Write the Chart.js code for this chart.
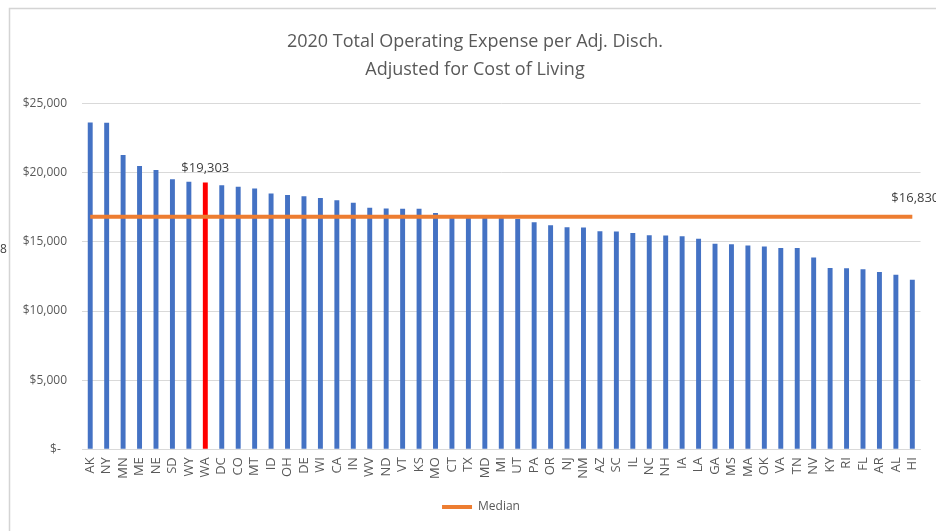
<!DOCTYPE html>
<html>
<head>
<meta charset="utf-8">
<script src="https://cdn.jsdelivr.net/npm/chart.js@4"></script>
<style>
    html, body { margin: 0; padding: 0; background: #fff; }
    #wrap { width: 936px; height: 531px; }
</style>
</head>
<body>
<div id="wrap"><canvas id="expenseChart"></canvas></div>
<script>
const states = ['AK', 'NY', 'MN', 'ME', 'NE', 'SD', 'WY', 'WA', 'DC', 'CO', 'MT', 'ID', 'OH', 'DE', 'WI', 'CA', 'IN',
    'WV', 'ND', 'VT', 'KS', 'MO', 'CT', 'TX', 'MD', 'MI', 'UT', 'PA', 'OR', 'NJ', 'NM', 'AZ', 'SC', 'IL',
    'NC', 'NH', 'IA', 'LA', 'GA', 'MS', 'MA', 'OK', 'VA', 'TN', 'NV', 'KY', 'RI', 'FL', 'AR', 'AL', 'HI'];
const expense = [23640, 23630, 21290, 20490, 20200, 19530, 19350, 19303, 19110, 18990, 18870, 18510, 18390, 18310, 18190, 18020, 17830,
    17470, 17420, 17410, 17400, 17100, 16920, 16900, 16870, 16830, 16660, 16420, 16210, 16060, 16050, 15770, 15760, 15650,
    15480, 15470, 15410, 15240, 14870, 14830, 14750, 14680, 14570, 14560, 13880, 13110, 13100, 13030, 12820, 12620, 12260];
const medianValue = 16830;
const highlightState = 'WA';
const yTicks = [0, 5000, 10000, 15000, 20000, 25000];

const textColor = '#595959';
const fontName = "'Open Sans', sans-serif";

function money(v) {
    if (v === 0) return '$-  ';
    return '$' + v.toLocaleString('en-US');
}

const ctxEl = document.getElementById('expenseChart');
const myChart = new Chart(ctxEl, {
    data: {
        labels: states,
        datasets: [{
            type: 'line',
            label: 'Median',
            data: states.map(() => medianValue),
            borderColor: '#ED7D31',
            backgroundColor: '#ED7D31',
            borderWidth: 4,
            pointRadius: 0,
            order: 0
        }, {
            type: 'bar',
            label: 'Expense',
            data: expense,
            backgroundColor: states.map(s => s === highlightState ? '#FF0000' : '#4472C4'),
            barPercentage: 0.3,
            categoryPercentage: 1,
            order: 1
        }]
    },
    plugins: [{
        id: 'custom',
        afterLayout: (chart) => {
            // nudge title and legend to where the original sits
            chart.titleBlock.left += 6;
            chart.titleBlock.right += 6;
            chart.legend.left += 12;
            chart.legend.right += 12;
            chart.legend.top -= 2;
            chart.legend.bottom -= 2;
        },
        beforeDraw: (chart) => {
            const ctx = chart.ctx;
            ctx.save();
            ctx.fillStyle = '#fff';
            ctx.fillRect(0, 0, chart.width, chart.height);
            // frame of the cropped chart
            ctx.strokeStyle = '#d4d4d4';
            ctx.lineWidth = 1.5;
            ctx.beginPath();
            ctx.moveTo(9.5, chart.height);
            ctx.lineTo(9.5, 8.5);
            ctx.lineTo(chart.width, 8.5);
            ctx.stroke();
            // stray label from outside the crop
            ctx.fillStyle = '#404040';
            ctx.font = '12px ' + fontName;
            ctx.textAlign = 'left';
            ctx.textBaseline = 'middle';
            ctx.fillText('8', 0, 250);
            ctx.restore();
        },
        afterDatasetsDraw: (chart) => {
            const ctx = chart.ctx;
            ctx.save();
            ctx.fillStyle = '#404040';
            ctx.font = '13px ' + fontName;
            ctx.textAlign = 'center';
            ctx.textBaseline = 'bottom';
            const idx = states.indexOf(highlightState);
            const bar = chart.getDatasetMeta(1).data[idx];
            ctx.fillText(money(expense[idx]), bar.x, bar.y - 8);
            const linePts = chart.getDatasetMeta(0).data;
            const last = linePts[linePts.length - 1];
            ctx.fillText(money(medianValue), last.x + 3, last.y - 12);
            ctx.restore();
        }
    }],
    options: {
        responsive: true,
        maintainAspectRatio: false,
        animation: false,
        layout: {
            padding: { top: 8, left: 10, right: 8, bottom: 6 }
        },
        scales: {
            x: {
                grid: { drawOnChartArea: false, drawTicks: false },
                border: { display: true, color: '#d9d9d9', width: 1 },
                ticks: {
                    color: textColor,
                    font: { family: fontName, size: 13 },
                    minRotation: 90,
                    maxRotation: 90,
                    autoSkip: false,
                    padding: 8
                }
            },
            y: {
                min: 0,
                max: 25000,
                afterBuildTicks: (axis) => {
                    axis.ticks = yTicks.map(v => ({ value: v }));
                },
                afterFit: (axis) => {
                    axis.width = 72;
                },
                grid: { color: '#d9d9d9', drawTicks: false },
                border: { display: false },
                ticks: {
                    color: textColor,
                    font: { family: fontName, size: 12 },
                    padding: 15,
                    callback: (v) => money(v)
                }
            }
        },
        plugins: {
            title: {
                display: true,
                text: ['2020 Total Operating Expense per Adj. Disch.', 'Adjusted for Cost of Living'],
                color: textColor,
                font: { family: fontName, size: 18, weight: 'normal', lineHeight: 1.55 },
                padding: { top: 20, bottom: 20 }
            },
            legend: {
                display: true,
                position: 'bottom',
                labels: {
                    color: textColor,
                    font: { family: fontName, size: 12 },
                    usePointStyle: true,
                    pointStyle: 'line',
                    pointStyleWidth: 30,
                    padding: 16,
                    filter: (item) => item.datasetIndex === 0
                }
            },
            tooltip: { enabled: false }
        }
    }
});
</script>
</body>
</html>
